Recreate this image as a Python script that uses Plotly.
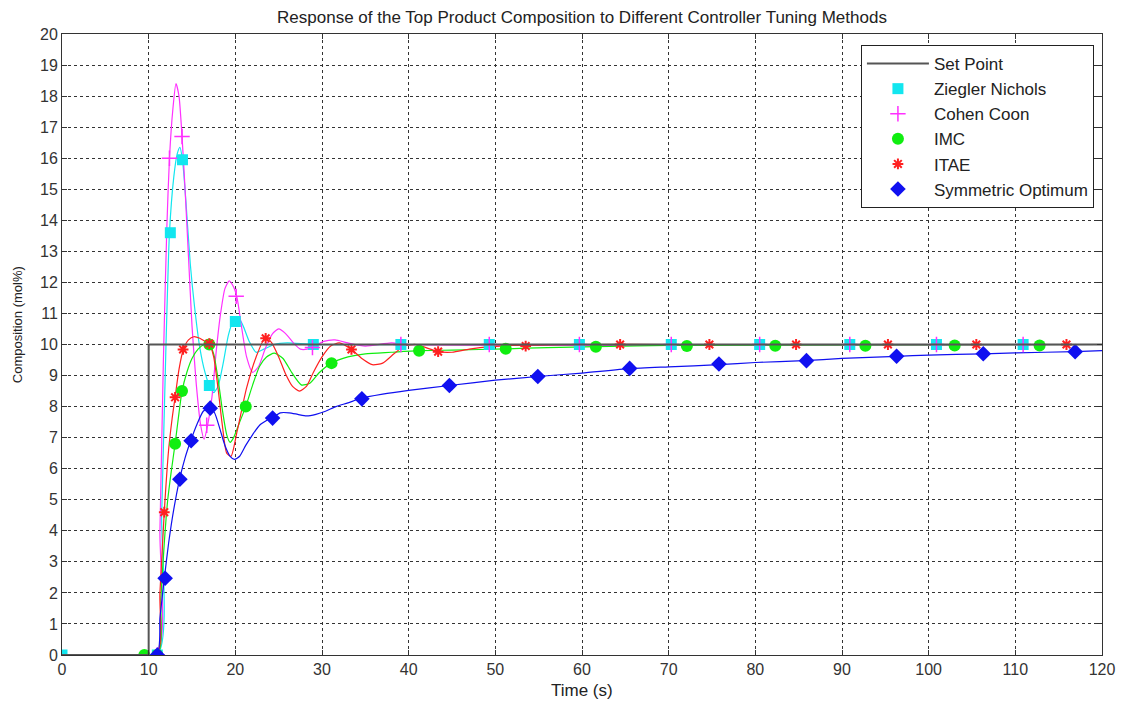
import plotly.graph_objects as go

# ---------------- data ----------------
# Set point
sp_t = [0, 10, 10, 120]
sp_y = [0, 0, 10, 10]

# Ziegler Nichols - curve
zn_t = [0, 11.0, 11.5, 12.0, 12.4, 12.9, 13.3, 13.6, 13.9, 14.3, 14.8, 15.3, 15.9, 16.5, 17.0, 17.5,
        18.0, 18.6, 19.2, 19.8, 20.3, 20.9, 21.6, 22.4, 23.3, 24.5, 26.0, 29.0, 40, 120]
zn_y = [0, 0, 4.5, 10.0, 13.6, 15.4, 16.15, 16.35, 15.95, 14.6, 12.6, 11.2, 9.9, 9.1, 8.68, 8.45,
        8.65, 9.4, 10.3, 10.8, 10.9, 10.6, 10.1, 9.75, 9.85, 10.0, 10.05, 10.0, 10.0, 10.0]
# Ziegler Nichols - markers
zn_mt = [0, 11, 12.5, 13.9, 17.0, 20.0, 29.0, 39.1, 49.3, 59.7, 70.3, 80.5, 90.9, 100.9, 110.9]
zn_my = [0, 0, 13.6, 15.95, 8.68, 10.74, 10, 10, 10, 10, 10, 10, 10, 10, 10]

# Cohen Coon - curve
cc_t = [0, 10.9, 11.3, 11.7, 12.1, 12.4, 12.8, 13.15, 13.5, 13.85, 14.2, 14.6, 15.0, 15.5, 16.0, 16.4,
        16.8, 17.3, 17.8, 18.3, 18.8, 19.3, 19.8, 20.2, 20.7, 21.3, 22.0, 22.7, 23.5, 24.3, 25.0, 25.8,
        26.7, 27.5, 28.3, 29.2, 30.2, 31.5, 33, 35, 38, 40, 120]
cc_y = [0, 0, 4, 9.5, 13.8, 16.0, 17.6, 18.4, 18.0, 16.7, 15.0, 12.8, 10.6, 8.7, 7.4, 6.95,
        7.4, 8.3, 9.8, 11.0, 11.8, 12.05, 11.85, 11.5, 10.6, 9.6, 9.1, 9.3, 9.9, 10.35, 10.5, 10.35,
        10.05, 9.85, 9.85, 9.95, 10.1, 10.15, 10.05, 9.95, 10.05, 10.0, 10.0]
# Cohen Coon - markers
cc_mt = [11, 12.4, 13.85, 16.7, 20.1, 28.9, 39.1, 49.3, 59.7, 70.3, 80.5, 90.9, 100.9, 110.9]
cc_my = [0, 16.0, 16.7, 7.4, 11.55, 9.9, 10, 10, 10, 10, 10, 10, 10, 10]

# IMC - curve
imc_t = [0, 11.0, 11.4, 11.8, 12.2, 12.6, 13.05, 13.5, 13.85, 14.4, 15.0, 15.7, 16.4, 17.0, 17.5, 18.0,
         18.5, 19.0, 19.4, 19.8, 20.5, 21.2, 22.0, 22.8, 23.6, 24.5, 25.5, 26.5, 27.6, 28.6, 29.7, 31.1,
         33, 35, 38, 41.2, 45, 51.2, 56, 61.6, 70, 120]
imc_y = [0, 0, 1.8, 3.6, 5.0, 5.9, 6.8, 7.8, 8.5, 9.1, 9.55, 9.85, 10.0, 10.0, 9.7, 8.9,
         7.9, 7.1, 6.85, 7.0, 7.5, 8.0, 8.7, 9.3, 9.6, 9.72, 9.55, 9.1, 8.7, 8.75, 9.1, 9.4,
         9.6, 9.7, 9.75, 9.8, 9.82, 9.86, 9.9, 9.93, 9.97, 10.0]
# IMC - markers
imc_mt = [9.5, 11, 13.05, 13.85, 17.0, 21.2, 31.1, 41.2, 51.2, 61.6, 72.1, 82.3, 92.7, 103.0, 112.8]
imc_my = [0, 0, 6.8, 8.5, 10.0, 8.0, 9.4, 9.8, 9.86, 9.93, 9.95, 9.96, 9.96, 9.97, 9.97]

# ITAE - curve
itae_t = [0, 10.9, 11.3, 11.8, 12.3, 12.7, 13.05, 13.5, 14.0, 14.6, 15.2, 15.9, 16.5, 17.0, 17.5, 18.0,
          18.5, 19.0, 19.5, 20.2, 21.3, 22.4, 23.5, 24.2, 25.0, 25.8, 26.6, 27.4, 28.2, 29.0, 30.0,
          31.0, 32.0, 33.4, 34.6, 35.8, 37.0, 38.3, 39.5, 40.8, 42.0, 43.4, 45, 47, 49.5, 52, 55, 60, 70, 120]
itae_y = [0, 0, 2.0, 4.6, 6.6, 7.6, 8.3, 9.2, 9.84, 10.15, 10.25, 10.2, 10.1, 10.03, 9.6, 8.6,
          7.4, 6.5, 6.4, 7.2, 8.6, 9.6, 10.25, 10.05, 9.6, 9.05, 8.65, 8.5, 8.65, 9.1, 9.6,
          9.95, 10.05, 9.84, 9.55, 9.35, 9.4, 9.7, 9.95, 10.0, 9.9, 9.77, 9.75, 9.85, 9.93, 9.97, 9.98, 10.0, 10.0, 10.0]
# ITAE - markers
itae_mt = [11, 11.8, 13.05, 13.97, 17.0, 23.5, 33.4, 43.4, 53.5, 64.4, 74.7, 84.7, 95.3, 105.5, 115.9]
itae_my = [0, 4.6, 8.3, 9.84, 10.03, 10.2, 9.84, 9.77, 9.95, 10, 10, 10, 10, 10, 10]

# Symmetric Optimum - curve
so_t = [0, 10.9, 11.3, 11.8, 12.3, 12.9, 13.6, 14.2, 14.9, 15.6, 16.3, 17.0, 17.6, 18.2, 18.8, 19.4,
        19.9, 20.5, 21.2, 22.0, 22.8, 23.6, 24.3, 25.2, 26.2, 27.2, 28.2, 29.3, 30.4, 31.6, 33, 34.4,
        37, 40, 44.7, 50, 54.9, 60, 65.5, 70, 75.8, 80, 85.6, 90, 96.3, 100, 106.3, 110, 116.9, 120]
so_y = [0, 0, 1.2, 2.45, 3.6, 4.7, 5.7, 6.35, 6.94, 7.45, 7.85, 7.97, 7.8, 7.3, 6.75, 6.4,
        6.3, 6.4, 6.75, 7.1, 7.4, 7.55, 7.65, 7.8, 7.8, 7.75, 7.7, 7.75, 7.85, 8.0, 8.12, 8.26,
        8.4, 8.52, 8.68, 8.85, 8.97, 9.08, 9.22, 9.28, 9.35, 9.42, 9.48, 9.55, 9.62, 9.66, 9.7, 9.73, 9.77, 9.8]
# Symmetric Optimum - markers
so_mt = [11, 11.9, 13.6, 14.9, 17.1, 24.3, 34.6, 44.7, 54.9, 65.5, 75.8, 85.9, 96.3, 106.3, 116.9]
so_my = [0, 2.47, 5.66, 6.9, 7.95, 7.63, 8.25, 8.68, 8.97, 9.23, 9.37, 9.48, 9.62, 9.7, 9.77]

x_ticks = list(range(0, 121, 10))
y_ticks = list(range(0, 21, 1))

# ---------------- figure ----------------
FONT = "Liberation Sans, Arial, sans-serif"
fig = go.Figure()

series = [
    ("Ziegler Nichols", zn_t, zn_y, zn_mt, zn_my, "#12e6ef", dict(symbol="square", size=11)),
    ("Cohen Coon", cc_t, cc_y, cc_mt, cc_my, "#ff30ff", dict(symbol="cross-thin-open", size=11, line=dict(width=1.5, color="#ff30ff"))),
    ("IMC", imc_t, imc_y, imc_mt, imc_my, "#10ee10", dict(symbol="circle", size=12)),
    ("ITAE", itae_t, itae_y, itae_mt, itae_my, "#ff2020", dict(symbol="asterisk-open", size=9, line=dict(width=2, color="#ff2020"))),
    ("Symmetric Optimum", so_t, so_y, so_mt, so_my, "#1010f0", dict(symbol="diamond", size=12)),
]

for i, (name, t, y, mt, my, col, mk) in enumerate(series):
    fig.add_trace(go.Scatter(x=t, y=y, mode="lines", line=dict(color=col, width=1.2, shape="spline", smoothing=0.6),
                             showlegend=False, hoverinfo="skip"))
for i, (name, t, y, mt, my, col, mk) in enumerate(series):
    mk = dict(mk)
    mk["color"] = col
    fig.add_trace(go.Scatter(x=mt, y=my, mode="markers", marker=mk, name=name,
                             legendgroup=name, legendrank=i + 2))

fig.add_trace(go.Scatter(x=sp_t, y=sp_y, mode="lines", line=dict(color="#555555", width=2),
                         name="Set Point", legendgroup="sp", legendrank=1))

axis_common = dict(
    showline=True, linecolor="#333333", linewidth=1, mirror="ticks",
    ticks="inside", ticklen=5, tickcolor="#333333",
    showgrid=True, gridcolor="#333333", gridwidth=1, griddash="3px,3px",
    zeroline=False,
    tickfont=dict(family=FONT, size=16, color="#333333"),
)
fig.update_xaxes(range=[0, 120], tickvals=x_ticks, **axis_common)
fig.update_yaxes(range=[0, 20], tickvals=y_ticks, **axis_common)

fig.update_layout(
    width=1127, height=703,
    margin=dict(l=62, r=21, t=34, b=48),
    paper_bgcolor="white", plot_bgcolor="white",
    title=dict(text="Response of the Top Product Composition to Different Controller Tuning Methods",
               x=0.5, xref="paper", y=1 - 17 / 703, yref="container", xanchor="center", yanchor="middle",
               font=dict(family=FONT, size=17, color="#222222")),
    legend=dict(x=(864 - 62) / 1044, y=(655 - 45) / 621, xanchor="left", yanchor="top",
                bgcolor="white", bordercolor="#222222", borderwidth=1,
                font=dict(family=FONT, size=17, color="#222222"),
                itemwidth=62, traceorder="grouped", tracegroupgap=0),
    annotations=[
        dict(text="Time (s)", x=0.5, y=(655 - 690) / 621, xref="paper", yref="paper",
             showarrow=False, xanchor="center", yanchor="middle",
             font=dict(family=FONT, size=17, color="#222222")),
        dict(text="Composition (mol%)", x=(17 - 62) / 1044, y=(655 - 325) / 621, xref="paper", yref="paper",
             showarrow=False, xanchor="center", yanchor="middle", textangle=-90,
             font=dict(family=FONT, size=13, color="#222222")),
    ],
    showlegend=True,
)

fig.write_html("out.html")
